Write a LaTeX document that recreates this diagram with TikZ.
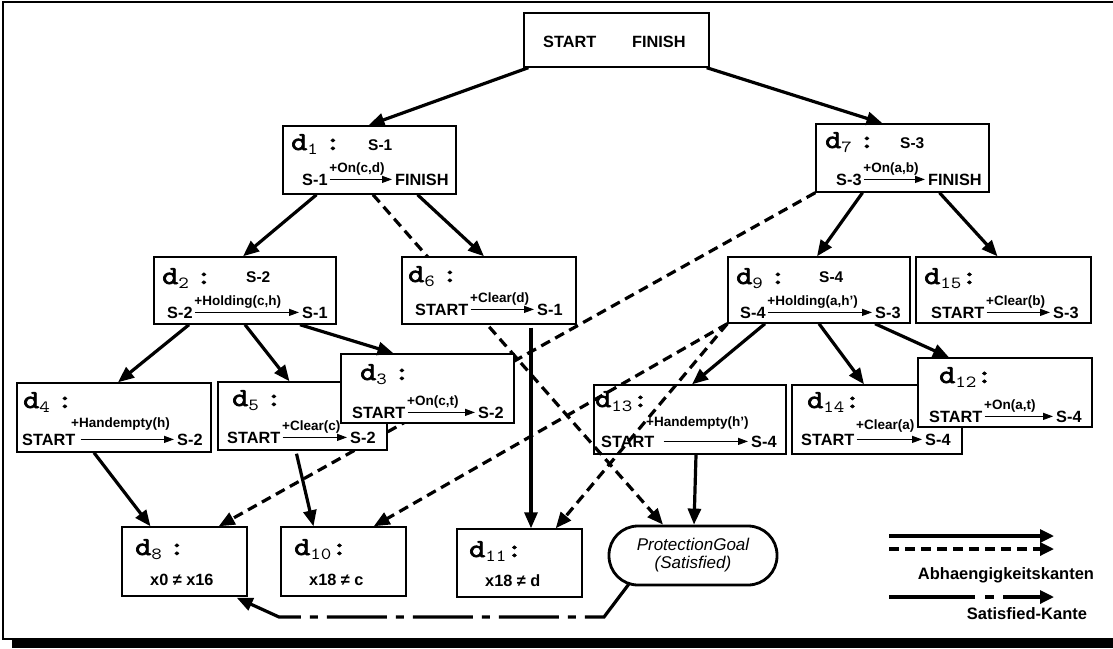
\documentclass[tikz,border=0pt]{standalone}
\usepackage{fontspec}
\setmainfont{Liberation Sans}
\newfontfamily\dfont{lmmono10-regular.otf}[AutoFakeBold=2.6,FakeStretch=1.18]
\usetikzlibrary{arrows.meta,backgrounds}

\newcommand\dsub[1]{\raisebox{-4pt}{\fontsize{17}{17}\selectfont\mdseries #1}}
\newcommand\dsp{\hspace{7pt}}

\tikzset{
  box/.style={draw, line width=1.4pt, fill=white, inner sep=0pt},
  txt/.style={inner sep=0pt, anchor=base west, font=\fontsize{16.3}{18}\selectfont\bfseries},
  hd/.style={inner sep=0pt, anchor=base west, font=\fontsize{26}{28}\selectfont\dfont\bfseries},
  hs/.style={txt, font=\fontsize{15.5}{17}\selectfont\bfseries},
  lab/.style={inner sep=1pt, anchor=south west, yshift=2pt, font=\fontsize{13.5}{15}\selectfont\bfseries},
  inarr/.style={line width=1.3pt, -{Triangle[length=10pt,width=7pt]}, shorten <=2pt, shorten >=3pt},
  dep/.style={line width=3.2pt, -{Triangle[length=16pt,width=13pt]}},
  depd/.style={dep, dash pattern=on 10pt off 6pt},
  sat/.style={dep, dash pattern=on 60pt off 9pt on 8pt off 9pt},
  legt/.style={inner sep=0pt, anchor=base, font=\fontsize{16.5}{18}\selectfont\bfseries}
}

\begin{document}
\begin{tikzpicture}[x=1pt,y=-1pt]
  \useasboundingbox (0,0) rectangle (1113,648);

  % frame
  \draw[line width=2pt] (1113,2) -- (3,2) -- (3,639) -- (1113,639);
  \fill (12,638) rectangle (1113,648);

  % boxes
  \node[box, minimum width=185, minimum height=54] (top) at (616.5,40) {};
  \node[txt] (topa) at (543,47) {START};
  \node[txt] (topb) at (632,47) {FINISH};

  \node[box, minimum width=173, minimum height=68] (d1) at (369.5,160) {};
  \node[hd] (d1h) at (291,150) {d\dsub{1}\dsp:};
  \node[hs] (d1s) at (368,150) {S-1};
  \node[txt] (d1a) at (302,185) {S-1};
  \node[txt] (d1b) at (395,185) {FINISH};

  \node[box, minimum width=173, minimum height=68] (d7) at (902.5,158) {};
  \node[hd] (d7h) at (825,148) {d\dsub{7}\dsp:};
  \node[hs] (d7s) at (900,148) {S-3};
  \node[txt] (d7a) at (836,185) {S-3};
  \node[txt] (d7b) at (928,185) {FINISH};

  \node[box, minimum width=182, minimum height=67] (d2) at (245,290.5) {};
  \node[hd] (d2h) at (162,284) {d\dsub{2}\dsp:};
  \node[hs] (d2s) at (246,282) {S-2};
  \node[txt] (d2a) at (167,318) {S-2};
  \node[txt] (d2b) at (302,318) {S-1};

  \node[box, minimum width=174, minimum height=67] (d6) at (489,290.5) {};
  \node[hd] (d6h) at (408,282) {d\dsub{6}\dsp:};
  \node[txt] (d6a) at (415,315) {START};
  \node[txt] (d6b) at (537,315) {S-1};

  \node[box, minimum width=182, minimum height=66] (d9) at (819,290) {};
  \node[hd] (d9h) at (736,284) {d\dsub{9}\dsp:};
  \node[hs] (d9s) at (819,282) {S-4};
  \node[txt] (d9a) at (740,318) {S-4};
  \node[txt] (d9b) at (875,318) {S-3};

  \node[box, minimum width=175, minimum height=66] (d15) at (1003.5,290) {};
  \node[hd] (d15h) at (924,284) {d\dsub{15}:};
  \node[txt] (d15a) at (931,318) {START};
  \node[txt] (d15b) at (1053,318) {S-3};

  \node[box, minimum width=194, minimum height=69] (d4) at (114,417.5) {};
  \node[hd] (d4h) at (23,408) {d\dsub{4}\dsp:};
  \node[txt] (d4a) at (22,445) {START};
  \node[txt] (d4b) at (177,445) {S-2};

  \node[box, minimum width=169, minimum height=68] (d5) at (302.5,416) {};
  \node[hd] (d5h) at (232,406) {d\dsub{5}\dsp:};
  \node[txt] (d5a) at (227,443) {START};
  \node[txt] (d5b) at (350,443) {S-2};

  \node[box, minimum width=173, minimum height=69] (d3) at (427.5,388.5) {};
  \node[hd] (d3h) at (360,380) {d\dsub{3}\dsp:};
  \node[txt] (d3a) at (352,418) {START};
  \node[txt] (d3b) at (478,418) {S-2};

  \node[box, fill=none, minimum width=192, minimum height=69] (d13) at (690,419.5) {};
  \node[hd] (d13h) at (595,407) {d\dsub{13}:};
  \node[txt] (d13a) at (601,447) {START};
  \node[txt] (d13b) at (751,447) {S-4};

  \node[box, minimum width=170, minimum height=69] (d14) at (877,419.5) {};
  \node[hd] (d14h) at (807,408) {d\dsub{14}:};
  \node[txt] (d14a) at (801,445) {START};
  \node[txt] (d14b) at (925,445) {S-4};

  \node[box, minimum width=174, minimum height=69] (d12) at (1005,392.5) {};
  \node[hd] (d12h) at (939,383) {d\dsub{12}:};
  \node[txt] (d12a) at (929,422) {START};
  \node[txt] (d12b) at (1056,422) {S-4};

  \node[box, minimum width=125, minimum height=69] (d8) at (184.5,561.5) {};
  \node[hd] (d8h) at (135,555) {d\dsub{8}\dsp:};
  \node[txt] (d8t) at (150,585) {x0 ≠ x16};

  \node[box, minimum width=125, minimum height=69] (d10) at (343.5,561.5) {};
  \node[hd] (d10h) at (294,555) {d\dsub{10}:};
  \node[txt] (d10t) at (309,585) {x18 ≠ c};

  \node[box, minimum width=125, minimum height=68] (d11) at (519.5,563) {};
  \node[hd] (d11h) at (469,557) {d\dsub{11}:};
  \node[txt] (d11t) at (485,586) {x18 ≠ d};

  \node[box, line width=2.8pt, rounded corners=29pt, minimum width=168, minimum height=59,
        align=center, font=\fontsize{17}{18}\selectfont\itshape] (PG) at (693,555.5)
        {ProtectionGoal\\(Satisfied)};

  % steps inside the boxes
  \draw[inarr] (d1a.east) -- (d1a.east -| d1b.west) node[pos=0,lab]{+On(c,d)};
  \draw[inarr] (d7a.east) -- (d7a.east -| d7b.west) node[pos=0,lab]{+On(a,b)};
  \draw[inarr] (d2a.east) -- (d2a.east -| d2b.west) node[pos=0,lab]{+Holding(c,h)};
  \draw[inarr] (d6a.east) -- (d6a.east -| d6b.west) node[pos=0,lab]{+Clear(d)};
  \draw[inarr] (d9a.east) -- (d9a.east -| d9b.west) node[pos=0,lab]{+Holding(a,h’)};
  \draw[inarr] (d15a.east) -- (d15a.east -| d15b.west) node[pos=0,lab]{+Clear(b)};
  \draw[inarr, shorten <=5pt] (d4a.east) -- (d4a.east -| d4b.west) node[pos=0,lab,xshift=-6pt,yshift=5pt]{+Handempty(h)};
  \draw[inarr] (d5a.east) -- (d5a.east -| d5b.west) node[pos=0,lab]{+Clear(c)};
  \draw[inarr] (d3a.east) -- (d3a.east -| d3b.west) node[pos=0,lab]{+On(c,t)};
  \draw[inarr, shorten <=9pt] (d13a.east) -- (d13a.east -| d13b.west) node[pos=0,lab,xshift=-10pt,yshift=8pt]{+Handempty(h’)};
  \draw[inarr] (d14a.east) -- (d14a.east -| d14b.west) node[pos=0,lab,yshift=3pt]{+Clear(a)};
  \draw[inarr] (d12a.east) -- (d12a.east -| d12b.west) node[pos=0,lab]{+On(a,t)};

  % edges hidden behind boxes
  \begin{scope}[on background layer]
    \fill[white] (0,0) rectangle (1113,648);
    \draw[depd] ([xshift=3.5]d1.south) -- ([xshift=-30]PG.north);
    \draw[depd] (d7.south west) -- ([xshift=-29]d8.north east);
  \end{scope}

  % dependency edges
  \draw[dep] ([xshift=5]top.south west) -- ([xshift=-1]d1.north);
  \draw[dep] ([xshift=-3]top.south east) -- ([xshift=-20]d7.north);
  \draw[dep] ([xshift=-53]d1.south) -- ([xshift=-2]d2.north);
  \draw[dep] ([xshift=48]d1.south) -- ([xshift=-5]d6.north);
  \draw[dep] ([xshift=-40]d7.south) -- ([xshift=-2]d9.north);
  \draw[dep] ([xshift=37]d7.south) -- ([xshift=-6]d15.north);
  \draw[dep] ([xshift=-56]d2.south) -- ([xshift=4]d4.north);
  \draw[dep] (d2.south) -- ([xshift=-13]d5.north);
  \draw[dep] ([xshift=55]d2.south) -- ([xshift=-34]d3.north);
  \draw[dep] ([xshift=-54]d9.south) -- ([xshift=2]d13.north);
  \draw[dep] (d9.south) -- ([xshift=-13]d14.north);
  \draw[dep] ([xshift=56]d9.south) -- ([xshift=-56]d12.north);
  \draw[dep] ([xshift=-20]d4.south) -- ([xshift=-34]d8.north);
  \draw[dep] ([xshift=-6,yshift=-3]d5.south) -- ([xshift=-30]d10.north);
  \draw[dep] ([xshift=42,yshift=-3]d6.south) -- ([xshift=11.5]d11.north);
  \draw[dep] ([xshift=6]d13.south) -- ([xshift=1]PG.north);
  \draw[depd] (d9.south west) -- ([xshift=-33]d10.north east);
  \draw[depd] (d9.south west) -- ([xshift=-27]d11.north east);

  % satisfied edge
  \draw[sat] ([xshift=21,yshift=2]PG.south west) -- (604,617) -- (279,617) -- ([xshift=-11,yshift=-1]d8.south east);

  % legend
  \coordinate (la1) at (889,536); \coordinate (lb1) at (1054,536);
  \coordinate (la2) at (889,549); \coordinate (lb2) at (1054,549);
  \coordinate (la3) at (889,597); \coordinate (lb3) at (1054,597);
  \draw[dep, -{Triangle[length=14pt,width=13pt]}] (la1) -- (lb1);
  \draw[depd, -{Triangle[length=14pt,width=13pt]}] (la2) -- (lb2);
  \draw[sat, dash pattern=on 86pt off 10pt on 9pt off 9pt, -{Triangle[length=14pt,width=13pt]}] (la3) -- (lb3);
  \node[legt] (lt1) at (1006,579) {Abhaengigkeitskanten};
  \node[legt] (lt2) at (1027,619) {Satisfied-Kante};
\end{tikzpicture}
\end{document}
